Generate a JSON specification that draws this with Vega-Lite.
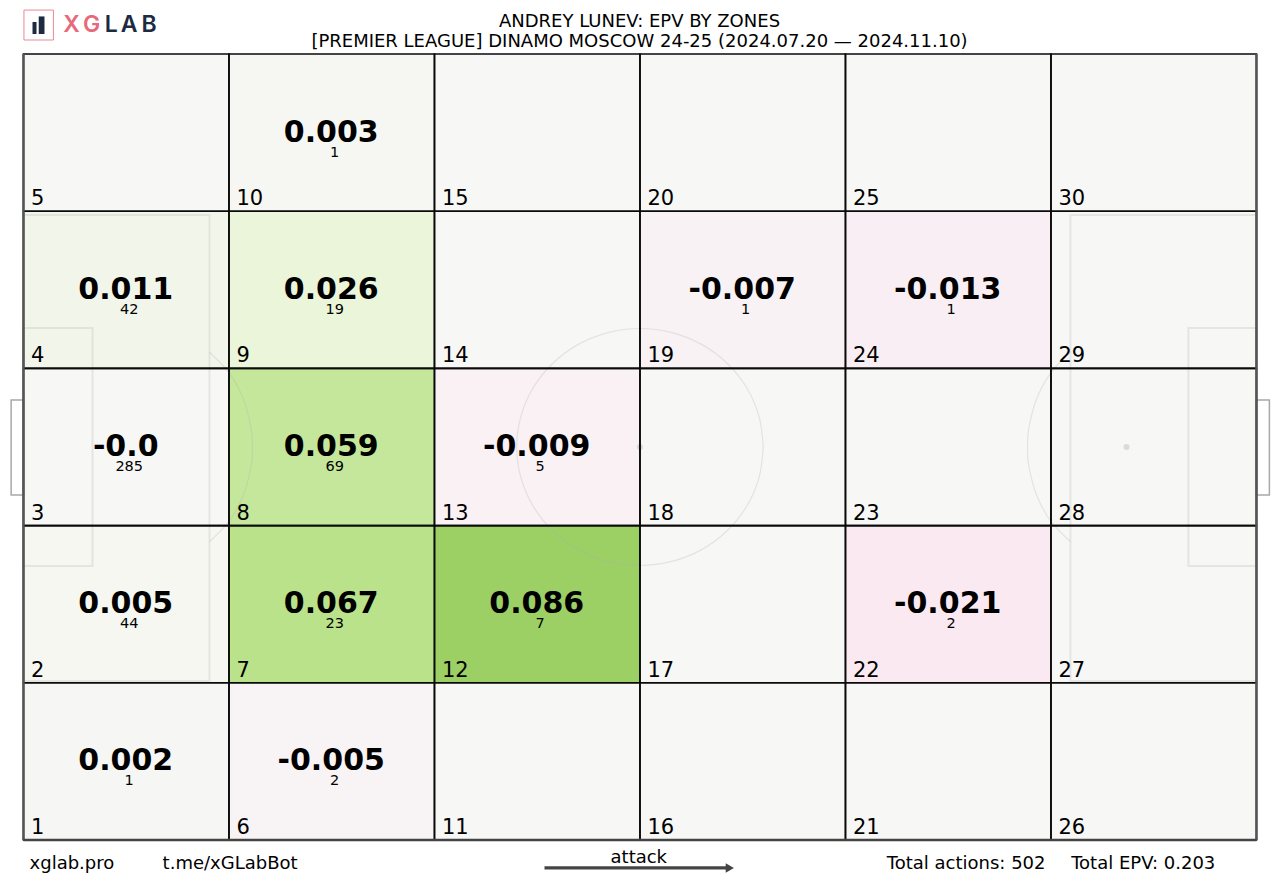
{
"$schema":"https://vega.github.io/schema/vega-lite/v6.json",
"width":1233,"height":786,
"autosize":{"type":"none"},
"padding":{"left":23,"top":54,"right":24,"bottom":44},
"background":"white",
"view":{"stroke":null},
"datasets":{
"cells":[
{"zone":1,"x":0,"x2":17.5,"y":0,"y2":13.6,"epv":0.002},{"zone":2,"x":0,"x2":17.5,"y":13.6,"y2":27.2,"epv":0.005},{"zone":3,"x":0,"x2":17.5,"y":27.2,"y2":40.8,"epv":-0.0002},{"zone":4,"x":0,"x2":17.5,"y":40.8,"y2":54.4,"epv":0.011},{"zone":5,"x":0,"x2":17.5,"y":54.4,"y2":68,"epv":0},
{"zone":6,"x":17.5,"x2":35,"y":0,"y2":13.6,"epv":-0.005},{"zone":7,"x":17.5,"x2":35,"y":13.6,"y2":27.2,"epv":0.067},{"zone":8,"x":17.5,"x2":35,"y":27.2,"y2":40.8,"epv":0.059},{"zone":9,"x":17.5,"x2":35,"y":40.8,"y2":54.4,"epv":0.026},{"zone":10,"x":17.5,"x2":35,"y":54.4,"y2":68,"epv":0.003},
{"zone":11,"x":35,"x2":52.5,"y":0,"y2":13.6,"epv":0},{"zone":12,"x":35,"x2":52.5,"y":13.6,"y2":27.2,"epv":0.086},{"zone":13,"x":35,"x2":52.5,"y":27.2,"y2":40.8,"epv":-0.009},{"zone":14,"x":35,"x2":52.5,"y":40.8,"y2":54.4,"epv":0},{"zone":15,"x":35,"x2":52.5,"y":54.4,"y2":68,"epv":0},
{"zone":16,"x":52.5,"x2":70,"y":0,"y2":13.6,"epv":0},{"zone":17,"x":52.5,"x2":70,"y":13.6,"y2":27.2,"epv":0},{"zone":18,"x":52.5,"x2":70,"y":27.2,"y2":40.8,"epv":0},{"zone":19,"x":52.5,"x2":70,"y":40.8,"y2":54.4,"epv":-0.007},{"zone":20,"x":52.5,"x2":70,"y":54.4,"y2":68,"epv":0},
{"zone":21,"x":70,"x2":87.5,"y":0,"y2":13.6,"epv":0},{"zone":22,"x":70,"x2":87.5,"y":13.6,"y2":27.2,"epv":-0.021},{"zone":23,"x":70,"x2":87.5,"y":27.2,"y2":40.8,"epv":0},{"zone":24,"x":70,"x2":87.5,"y":40.8,"y2":54.4,"epv":-0.013},{"zone":25,"x":70,"x2":87.5,"y":54.4,"y2":68,"epv":0},
{"zone":26,"x":87.5,"x2":105,"y":0,"y2":13.6,"epv":0},{"zone":27,"x":87.5,"x2":105,"y":13.6,"y2":27.2,"epv":0},{"zone":28,"x":87.5,"x2":105,"y":27.2,"y2":40.8,"epv":0},{"zone":29,"x":87.5,"x2":105,"y":40.8,"y2":54.4,"epv":0},{"zone":30,"x":87.5,"x2":105,"y":54.4,"y2":68,"epv":0}
],
"labels":[
{"x":8.75,"y":6.8,"label":"0.002","n":"1"},{"x":8.75,"y":20.4,"label":"0.005","n":"44"},{"x":8.75,"y":34,"label":"-0.0","n":"285"},{"x":8.75,"y":47.6,"label":"0.011","n":"42"},
{"x":26.25,"y":6.8,"label":"-0.005","n":"2"},{"x":26.25,"y":20.4,"label":"0.067","n":"23"},{"x":26.25,"y":34,"label":"0.059","n":"69"},{"x":26.25,"y":47.6,"label":"0.026","n":"19"},{"x":26.25,"y":61.2,"label":"0.003","n":"1"},
{"x":43.75,"y":20.4,"label":"0.086","n":"7"},{"x":43.75,"y":34,"label":"-0.009","n":"5"},
{"x":61.25,"y":47.6,"label":"-0.007","n":"1"},
{"x":78.75,"y":20.4,"label":"-0.021","n":"2"},{"x":78.75,"y":47.6,"label":"-0.013","n":"1"}
],
"pitchBoxes":[
{"x":0,"x2":15.84,"y":13.76,"y2":54.07},{"x":0,"x2":5.88,"y":23.7,"y2":44.3},
{"x":89.16,"x2":105,"y":13.76,"y2":54.07},{"x":99.2,"x2":105,"y":23.7,"y2":44.3}
],
"goals":[{"x":-1.05,"x2":0,"y":29.85,"y2":38.07},{"x":105,"x2":106.1,"y":29.85,"y2":38.07}],
"spots":[{"x":11.07,"y":34},{"x":52.5,"y":34},{"x":93.93,"y":34}],
"curves":[
{"c":"centre","o":0,"x":63,"y":34},{"c":"centre","o":1,"x":62.64,"y":36.65},{"c":"centre","o":2,"x":61.59,"y":39.13},{"c":"centre","o":3,"x":59.92,"y":41.25},{"c":"centre","o":4,"x":57.75,"y":42.88},{"c":"centre","o":5,"x":55.22,"y":43.9},{"c":"centre","o":6,"x":52.5,"y":44.25},{"c":"centre","o":7,"x":49.78,"y":43.9},{"c":"centre","o":8,"x":47.25,"y":42.88},{"c":"centre","o":9,"x":45.08,"y":41.25},{"c":"centre","o":10,"x":43.41,"y":39.13},{"c":"centre","o":11,"x":42.36,"y":36.65},{"c":"centre","o":12,"x":42,"y":34},{"c":"centre","o":13,"x":42.36,"y":31.35},{"c":"centre","o":14,"x":43.41,"y":28.87},{"c":"centre","o":15,"x":45.08,"y":26.75},{"c":"centre","o":16,"x":47.25,"y":25.12},{"c":"centre","o":17,"x":49.78,"y":24.1},{"c":"centre","o":18,"x":52.5,"y":23.75},{"c":"centre","o":19,"x":55.22,"y":24.1},{"c":"centre","o":20,"x":57.75,"y":25.12},{"c":"centre","o":21,"x":59.92,"y":26.75},{"c":"centre","o":22,"x":61.59,"y":28.87},{"c":"centre","o":23,"x":62.64,"y":31.35},{"c":"centre","o":24,"x":63,"y":34},
{"c":"left","o":0,"x":15.84,"y":42.2},{"c":"left","o":1,"x":17.53,"y":40.4},{"c":"left","o":2,"x":18.71,"y":38.2},{"c":"left","o":3,"x":19.37,"y":35.73},{"c":"left","o":4,"x":19.5,"y":34},{"c":"left","o":5,"x":19.37,"y":32.27},{"c":"left","o":6,"x":18.71,"y":29.8},{"c":"left","o":7,"x":17.53,"y":27.6},{"c":"left","o":8,"x":15.84,"y":25.8},
{"c":"right","o":0,"x":89.16,"y":42.2},{"c":"right","o":1,"x":87.47,"y":40.4},{"c":"right","o":2,"x":86.29,"y":38.2},{"c":"right","o":3,"x":85.63,"y":35.73},{"c":"right","o":4,"x":85.5,"y":34},{"c":"right","o":5,"x":85.63,"y":32.27},{"c":"right","o":6,"x":86.29,"y":29.8},{"c":"right","o":7,"x":87.47,"y":27.6},{"c":"right","o":8,"x":89.16,"y":25.8}
],
"titles":[
{"x":52.46,"y":70.77,"t":"ANDREY LUNEV: EPV BY ZONES"},{"x":52.46,"y":69.02,"t":"[PREMIER LEAGUE] DINAMO MOSCOW 24-25 (2024.07.20 — 2024.11.10)"}
],
"footer":[
{"x":0.52,"y":-2.1,"t":"xglab.pro"},{"x":11.85,"y":-2.1,"t":"t.me/xGLabBot"},{"x":73.52,"y":-2.1,"t":"Total actions: 502"},{"x":89.22,"y":-2.1,"t":"Total EPV: 0.203"}
],
"attack":[{"x":52.4,"y":-1.56,"t":"attack"}],
"arrow":[{"x":44.37,"y":-2.42},{"x":60.05,"y":-2.42}],
"arrowHead":[{"x":60.15,"y":-2.42}],
"logoBox":[{"x":0.04,"x2":2.55,"y":69.21,"y2":71.8}],
"logoBars":[{"x":0.77,"x2":1.11,"y":69.73,"y2":70.77},{"x":1.3,"x2":1.79,"y":69.73,"y2":71.25}],
"logoPink":[{"x":4.1,"y":70.5,"t":"X"},{"x":5.8,"y":70.5,"t":"G"}],
"logoDark":[{"x":7.47,"y":70.5,"t":"L"},{"x":9.0,"y":70.5,"t":"A"},{"x":10.7,"y":70.5,"t":"B"}]
},
"encoding":{
"x":{"field":"x","type":"quantitative","scale":{"domain":[-0.04,104.96],"nice":false,"zero":false},"axis":null},
"y":{"field":"y","type":"quantitative","scale":{"domain":[0,68],"nice":false,"zero":false},"axis":null}
},
"layer":[
{"data":{"name":"cells"},"mark":{"type":"rect"},"encoding":{"x2":{"field":"x2"},"y2":{"field":"y2"},"color":{"field":"epv","type":"quantitative","legend":null,"scale":{"interpolate":"rgb","domain":[-0.0688,-0.0344,0,0.0344,0.0688,0.1032],"range":["#f1b6da","#fde0ef","#f7f7f6","#e6f5d0","#b8e186","#7fbc41"]}}}},
{"data":{"name":"pitchBoxes"},"mark":{"type":"rect","fill":null,"stroke":"#b0b0b0","strokeWidth":2,"strokeOpacity":0.25},"encoding":{"x2":{"field":"x2"},"y2":{"field":"y2"}}},
{"data":{"name":"curves"},"mark":{"type":"line","interpolate":"cardinal","stroke":"#b0b0b0","strokeWidth":1.2,"strokeOpacity":0.28},"encoding":{"detail":{"field":"c"},"order":{"field":"o","type":"ordinal"}}},
{"data":{"name":"spots"},"mark":{"type":"point","shape":"circle","filled":true,"fill":"#b0b0b0","opacity":0.4,"size":36,"stroke":null},"encoding":{}},
{"data":{"name":"goals"},"mark":{"type":"rect","fill":null,"stroke":"#a8a8a8","strokeWidth":1.5},"encoding":{"x2":{"field":"x2"},"y2":{"field":"y2"}}},
{"data":{"name":"cells"},"mark":{"type":"rect","fill":null,"stroke":"#0a0a0a","strokeWidth":1.6},"encoding":{"x2":{"field":"x2"},"y2":{"field":"y2"}}},
{"data":{"values":[{"x":0,"y":0},{"x":0,"y":68}]},"mark":{"type":"line","stroke":"#555555","strokeWidth":2.4},"encoding":{}},
{"data":{"values":[{"x":105,"y":0},{"x":105,"y":68}]},"mark":{"type":"line","stroke":"#555555","strokeWidth":2.4},"encoding":{}},
{"data":{"values":[{"x":0,"y":0},{"x":105,"y":0}]},"mark":{"type":"line","stroke":"#444444","strokeWidth":2.4},"encoding":{}},
{"data":{"name":"cells"},"mark":{"type":"text","align":"left","baseline":"bottom","dx":7.5,"dy":-2,"font":"DejaVu Sans","fontSize":21,"color":"#000"},"encoding":{"text":{"field":"zone","type":"nominal"}}},
{"data":{"name":"labels"},"mark":{"type":"text","align":"center","baseline":"middle","dx":-0.5,"dy":0,"font":"DejaVu Sans","fontSize":30,"fontWeight":"bold","color":"#000"},"encoding":{"text":{"field":"label","type":"nominal"}}},
{"data":{"name":"labels"},"mark":{"type":"text","align":"center","baseline":"middle","dx":3,"dy":20,"font":"DejaVu Sans","fontSize":14.5,"color":"#000"},"encoding":{"text":{"field":"n","type":"nominal"}}},
{"data":{"name":"titles"},"mark":{"type":"text","align":"center","baseline":"middle","font":"DejaVu Sans","fontSize":18,"color":"#000"},"encoding":{"text":{"field":"t","type":"nominal"}}},
{"data":{"name":"footer"},"mark":{"type":"text","align":"left","baseline":"middle","font":"DejaVu Sans","fontSize":18,"color":"#000"},"encoding":{"text":{"field":"t","type":"nominal"}}},
{"data":{"name":"attack"},"mark":{"type":"text","align":"center","baseline":"middle","font":"DejaVu Sans","fontSize":18,"color":"#000"},"encoding":{"text":{"field":"t","type":"nominal"}}},
{"data":{"name":"arrow"},"mark":{"type":"line","stroke":"#444444","strokeWidth":3.2},"encoding":{}},
{"data":{"name":"arrowHead"},"mark":{"type":"point","shape":"triangle-right","filled":true,"fill":"#444444","size":90,"stroke":null,"opacity":1},"encoding":{}},
{"data":{"name":"logoBox"},"mark":{"type":"rect","fill":"white","stroke":"#e58a97","strokeWidth":1},"encoding":{"x2":{"field":"x2"},"y2":{"field":"y2"}}},
{"data":{"name":"logoBars"},"mark":{"type":"rect","fill":"#1c2b3f"},"encoding":{"x2":{"field":"x2"},"y2":{"field":"y2"}}},
{"data":{"name":"logoPink"},"mark":{"type":"text","align":"center","baseline":"middle","font":"Inter","fontSize":23,"fontWeight":600,"color":"#e8697a"},"encoding":{"text":{"field":"t","type":"nominal"}}},
{"data":{"name":"logoDark"},"mark":{"type":"text","align":"center","baseline":"middle","font":"Inter","fontSize":23,"fontWeight":600,"color":"#1c2b3f"},"encoding":{"text":{"field":"t","type":"nominal"}}}
]
}
